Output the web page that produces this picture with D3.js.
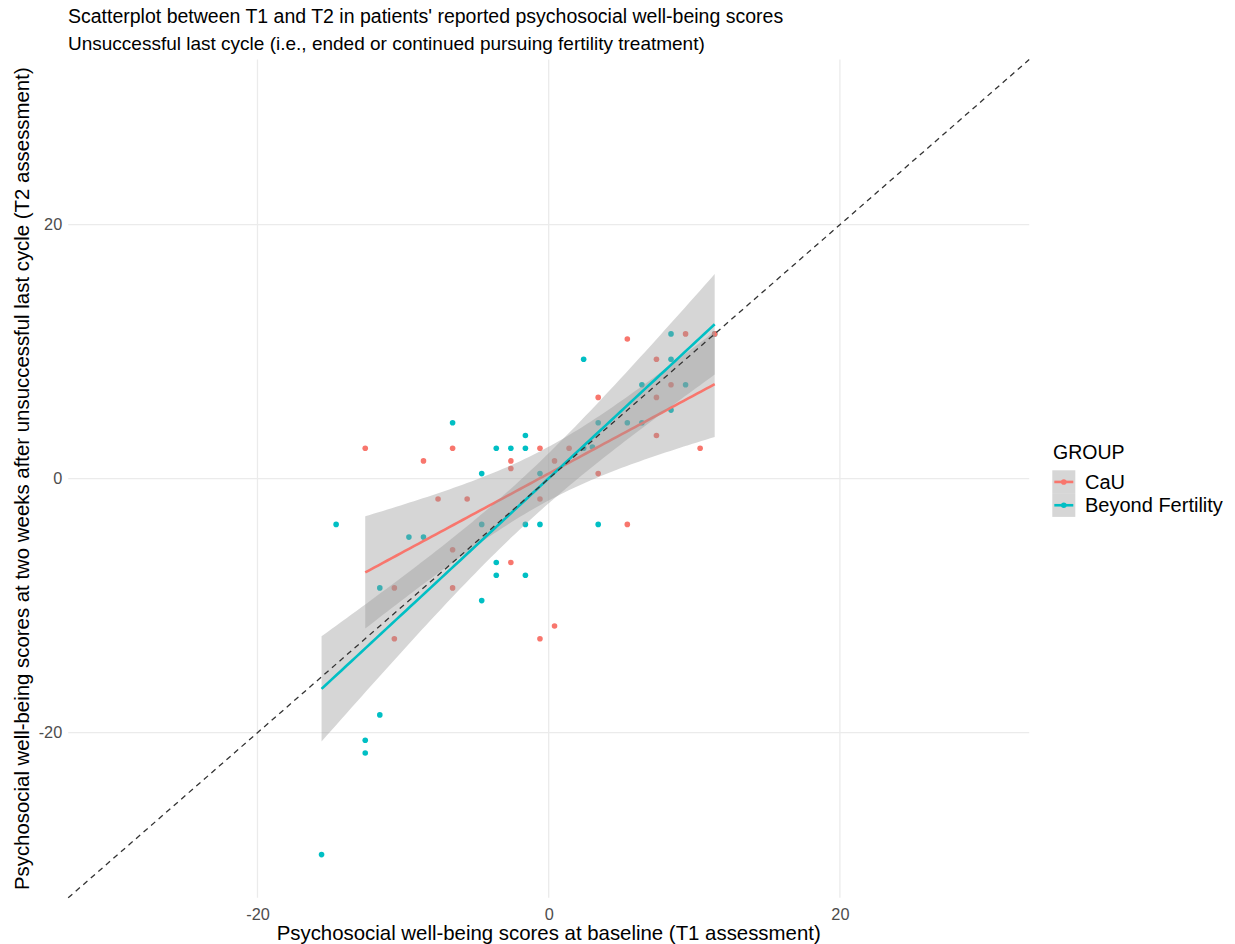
<!DOCTYPE html>
<html>
<head>
<meta charset="utf-8">
<script src="https://cdn.jsdelivr.net/npm/d3@7"></script>
<style>
  html, body { margin: 0; padding: 0; background: #fff; }
  svg { display: block; font-family: "Liberation Sans", Arial, Helvetica, sans-serif; }
</style>
</head>
<body>
<svg id="chart" width="1235" height="944"></svg>
<script>
// ---------------- data ----------------
const groups = ["CaU", "Beyond Fertility"];
const groupColors = ["#F8766D", "#00BFC4"];

// CaU (care as usual): baseline T1 vs T2
const cauT1 = [-12.6, -10.6, -10.6, -8.6, -7.6, -6.6, -6.6, -6.6, -5.6, -2.6, -2.6, -2.6, -0.6, -0.6, -0.6, 0.4, 0.4, 1.4, 3.4, 3.4, 5.4, 5.4, 7.4, 7.4, 7.4, 8.4, 9.4, 10.4, 11.4];
const cauT2 = [2.4, -8.6, -12.6, 1.4, -1.6, 2.4, -5.6, -8.6, -1.6, 1.4, 0.8, -6.6, 2.4, -1.6, -12.6, 1.4, -11.6, 2.4, 6.4, 0.4, 11.0, -3.6, 9.4, 6.4, 3.4, 7.4, 11.4, 2.4, 11.4];

// Beyond Fertility: baseline T1 vs T2
const bfT1 = [-15.6, -14.6, -12.6, -12.6, -11.6, -11.6, -9.6, -8.6, -6.6, -4.6, -4.6, -4.6, -3.6, -3.6, -3.6, -2.6, -1.6, -1.6, -1.6, -1.6, -0.6, -0.6, 2.4, 2.4, 3.0, 3.4, 3.4, 5.4, 6.4, 6.4, 8.4, 8.4, 8.4, 9.4, 11.4];
const bfT2 = [-29.6, -3.6, -20.6, -21.6, -18.6, -8.6, -4.6, -4.6, 4.4, 0.4, -3.6, -9.6, 2.4, -6.6, -7.6, 2.4, 3.4, 2.4, -3.6, -7.6, 0.4, -3.6, 9.4, 2.4, 2.5, 4.4, -3.6, 4.4, 4.4, 7.4, 11.4, 9.4, 5.4, 7.4, 11.4];

const xTicks = [-20, 0, 20];
const yTicks = [-20, 0, 20];
const tickLabels = ["-20", "0", "20"];
const axisLimits = [-33, 33];

const titleText = "Scatterplot between T1 and T2 in patients' reported psychosocial well-being scores";
const subtitleText = "Unsuccessful last cycle (i.e., ended or continued pursuing fertility treatment)";
const xTitle = "Psychosocial well-being scores at baseline (T1 assessment)";
const yTitle = "Psychosocial well-being scores at two weeks after unsuccessful last cycle (T2 assessment)";
const legendTitle = "GROUP";

// ---------------- helpers ----------------
function qt975(df) {
  const z = 1.959963985;
  const g1 = (z ** 3 + z) / 4;
  const g2 = (5 * z ** 5 + 16 * z ** 3 + 3 * z) / 96;
  const g3 = (3 * z ** 7 + 19 * z ** 5 + 17 * z ** 3 - 15 * z) / 384;
  const g4 = (79 * z ** 9 + 776 * z ** 7 + 1482 * z ** 5 - 1920 * z ** 3 - 945 * z) / 92160;
  return z + g1 / df + g2 / df ** 2 + g3 / df ** 3 + g4 / df ** 4;
}
function lmFit(xs, ys) {
  const n = xs.length;
  const mx = d3.mean(xs), my = d3.mean(ys);
  let sxx = 0, sxy = 0;
  for (let i = 0; i < n; i++) { sxx += (xs[i] - mx) ** 2; sxy += (xs[i] - mx) * (ys[i] - my); }
  const b = sxy / sxx, a = my - b * mx;
  let sse = 0;
  for (let i = 0; i < n; i++) sse += (ys[i] - a - b * xs[i]) ** 2;
  const s = Math.sqrt(sse / (n - 2));
  const t = qt975(n - 2);
  const [lo, hi] = d3.extent(xs);
  return d3.range(80).map(k => {
    const xv = lo + (hi - lo) * k / 79;
    const yv = a + b * xv;
    const se = s * Math.sqrt(1 / n + (xv - mx) ** 2 / sxx);
    return { x: xv, y: yv, ymin: yv - t * se, ymax: yv + t * se };
  });
}

// ---------------- layout ----------------
const svg = d3.select("#chart");
const x = d3.scaleLinear().domain(axisLimits).range([68.2, 1029.2]);
const y = d3.scaleLinear().domain(axisLimits).range([897.8, 59.6]);
const fmt = d => tickLabels[xTicks.indexOf(d)];

// grid
const grid = svg.append("g");
grid.selectAll("line.gx").data(xTicks).join("line")
  .attr("x1", d => x(d)).attr("x2", d => x(d))
  .attr("y1", y.range()[0]).attr("y2", y.range()[1])
  .attr("stroke", "#ebebeb").attr("stroke-width", 1.3);
grid.selectAll("line.gy").data(yTicks).join("line")
  .attr("y1", d => y(d)).attr("y2", d => y(d))
  .attr("x1", x.range()[0]).attr("x2", x.range()[1])
  .attr("stroke", "#ebebeb").attr("stroke-width", 1.3);

// axes (labels only, no ticks / domain)
const xAxis = svg.append("g").attr("transform", `translate(0,${y.range()[0] + 3})`)
  .call(d3.axisBottom(x).tickValues(xTicks).tickSize(0).tickPadding(8).tickFormat(fmt));
xAxis.select(".domain").remove();
xAxis.selectAll("text").attr("font-size", 16.3).attr("fill", "#4d4d4d").attr("font-family", "Liberation Sans, Arial, sans-serif");

const yAxis = svg.append("g").attr("transform", `translate(${x.range()[0] - 6},0)`)
  .call(d3.axisLeft(y).tickValues(yTicks).tickSize(0).tickPadding(0).tickFormat(fmt));
yAxis.select(".domain").remove();
yAxis.selectAll("text").attr("font-size", 16.3).attr("fill", "#4d4d4d").attr("font-family", "Liberation Sans, Arial, sans-serif");

// points
const series = [
  { name: groups[0], color: groupColors[0], xs: cauT1, ys: cauT2 },
  { name: groups[1], color: groupColors[1], xs: bfT1, ys: bfT2 }
];
const ptsG = svg.append("g");
[series[1], series[0]].forEach(s => {
  ptsG.selectAll(null).data(d3.range(s.xs.length)).join("circle")
    .attr("cx", i => x(s.xs[i])).attr("cy", i => y(s.ys[i]))
    .attr("r", 2.8).attr("fill", s.color);
});

// smooth (lm with 95% CI)
const smoothG = svg.append("g");
series.forEach(s => {
  const fit = lmFit(s.xs, s.ys);
  smoothG.append("path").datum(fit)
    .attr("d", d3.area().x(d => x(d.x)).y0(d => y(d.ymin)).y1(d => y(d.ymax)))
    .attr("fill", "#999999").attr("fill-opacity", 0.4);
  smoothG.append("path").datum(fit)
    .attr("d", d3.line().x(d => x(d.x)).y(d => y(d.y)))
    .attr("fill", "none").attr("stroke", s.color).attr("stroke-width", 2.6);
});

// identity line
svg.append("line")
  .attr("x1", x(axisLimits[0])).attr("y1", y(axisLimits[0]))
  .attr("x2", x(axisLimits[1])).attr("y2", y(axisLimits[1]))
  .attr("stroke", "#333").attr("stroke-width", 1.3).attr("stroke-dasharray", "5.5,4.5");

// titles
svg.append("text").attr("x", 68).attr("y", 22.5).attr("font-size", 19.5).attr("fill", "#000").text(titleText);
svg.append("text").attr("x", 68).attr("y", 49.5).attr("font-size", 19).attr("fill", "#000").text(subtitleText);
svg.append("text").attr("x", (x.range()[0] + x.range()[1]) / 2).attr("y", 940)
  .attr("text-anchor", "middle").attr("font-size", 20.4).attr("fill", "#000").text(xTitle);
svg.append("text").attr("transform", `translate(29,${(y.range()[0] + y.range()[1]) / 2}) rotate(-90)`)
  .attr("text-anchor", "middle").attr("font-size", 20.4).attr("fill", "#000").text(yTitle);

// legend
const lg = svg.append("g");
lg.append("text").attr("x", 1053).attr("y", 458.5).attr("font-size", 19.5).attr("fill", "#000").text(legendTitle);
const keyH = 23.3, keyTop = 470.3, keyX = 1052.3, keyW = 23;
series.forEach((s, i) => {
  const ky = keyTop + i * keyH;
  lg.append("rect").attr("x", keyX).attr("y", ky).attr("width", keyW).attr("height", keyH)
    .attr("fill", "#999999").attr("fill-opacity", 0.4);
  lg.append("line").attr("x1", keyX + 2).attr("x2", keyX + keyW - 2).attr("y1", ky + keyH / 2).attr("y2", ky + keyH / 2)
    .attr("stroke", s.color).attr("stroke-width", 2.6);
  lg.append("circle").attr("cx", keyX + keyW / 2).attr("cy", ky + keyH / 2).attr("r", 2.8).attr("fill", s.color);
  lg.append("text").attr("x", 1085).attr("y", ky + keyH / 2 + 7).attr("font-size", 20).attr("fill", "#000").text(s.name);
});
</script>
</body>
</html>
